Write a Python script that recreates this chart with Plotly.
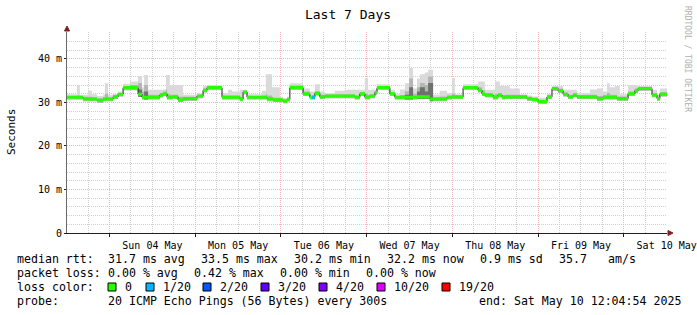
import plotly.graph_objects as go
from datetime import datetime, timedelta

# ---------------- data ----------------
title_text = "Last 7 Days"
end_time = datetime(2025, 5, 10, 12, 4, 54)
start_time = end_time - timedelta(days=7)

# segment start, hours after start of window
seg_hours = [0.0, 2.8, 3.6, 4.5, 5.9, 7.0, 8.4, 10.1, 10.6, 11.5, 12.9, 14.3, 15.7, 17.6, 19.9, 21.0,
             21.6, 22.7, 26.0, 26.9, 27.7, 28.0, 28.8, 29.7, 31.1, 32.5, 36.4, 38.1, 39.2, 43.4, 45.1,
             46.2, 48.4, 49.3, 50.4, 54.6, 55.7, 56.0, 57.4, 57.7, 59.6, 60.5, 61.6, 62.4, 66.1, 68.0,
             68.6, 69.4, 70.8, 72.2, 75.0, 77.8, 80.6, 82.0, 83.4, 84.3, 84.8, 86.2, 86.8, 90.4, 91.8,
             93.2, 94.6, 95.8, 96.9, 98.0, 98.8, 100.2, 101.1, 101.6, 102.5, 104.4, 106.4, 107.8, 108.6,
             110.9, 115.1, 116.2, 117.0, 119.3, 119.8, 120.7, 121.2, 121.8, 122.6, 124.0, 126.8, 128.8,
             130.2, 131.9, 134.4, 135.8, 137.5, 138.9, 140.3, 141.7, 142.8, 146.4, 148.4, 150.1, 151.2,
             152.0, 153.4, 154.0, 154.8, 157.1, 159.0, 159.9, 163.8, 165.2, 166.0]

median_ms = [31.2, 31.2, 31.2, 30.8, 30.8, 30.8, 30.5, 30.8, 30.8, 30.8, 31.3, 31.9, 33.4, 33.4, 31.9, 31.2,
             31.2, 31.2, 31.7, 32.0, 32.0, 31.2, 31.2, 31.3, 30.6, 30.9, 31.5, 32.8, 33.4, 31.2, 31.2,
             31.2, 30.8, 32.4, 31.2, 31.2, 31.2, 30.8, 30.8, 30.6, 30.6, 30.3, 30.7, 33.4, 32.0, 31.2,
             31.2, 32.1, 31.3, 31.5, 31.5, 31.5, 31.2, 32.0, 31.2, 31.2, 31.5, 32.3, 33.4, 32.0, 31.2,
             31.2, 31.2, 31.2, 31.2, 31.3, 31.3, 31.3, 31.3, 30.8, 30.8, 30.8, 31.2, 31.3, 31.3,
             33.4, 32.8, 32.0, 31.7, 31.2, 31.2, 31.7, 31.7, 31.2, 31.3, 31.3, 31.3, 30.9,
             30.7, 30.2, 31.3, 33.2, 32.7, 31.9, 31.3, 31.7, 31.3, 31.3, 30.9, 31.2, 31.2,
             31.2, 31.2, 30.9, 30.9, 32.0, 32.7, 33.2, 31.7, 30.9, 31.9]

smoke_lo_ms = [30.7, 30.7, 30.7, 30.3, 30.3, 30.3, 29.9, 30.3, 30.3, 30.3, 30.8, 31.4, 32.8, 32.8, 31.3, 30.7,
               30.7, 30.7, 31.2, 31.5, 31.5, 30.7, 30.7, 30.8, 30.1, 30.4, 31.0, 32.3, 32.9, 30.7, 30.7,
               30.7, 30.3, 31.9, 30.7, 30.7, 30.7, 30.3, 30.3, 30.1, 30.1, 29.8, 30.2, 32.9, 31.5, 30.7,
               30.7, 31.6, 30.8, 31.0, 31.0, 31.0, 30.7, 31.5, 30.7, 30.7, 31.0, 31.8, 32.9, 31.5, 30.7,
               30.7, 30.7, 30.7, 30.7, 30.8, 30.8, 30.8, 30.8, 30.3, 30.3, 30.3, 30.7, 30.8, 30.8,
               32.9, 32.3, 31.5, 31.2, 30.7, 30.7, 31.2, 31.2, 30.7, 30.8, 30.8, 30.8, 30.4,
               30.2, 29.7, 30.8, 32.7, 32.2, 31.4, 30.8, 31.2, 30.8, 30.8, 30.4, 30.7, 30.7,
               30.7, 30.7, 30.4, 30.4, 31.5, 32.2, 32.7, 31.2, 30.4, 31.4]

smoke_hi_ms = [31.9, 34.0, 31.8, 31.8, 32.7, 31.9, 31.5, 31.8, 34.4, 31.8, 32.0, 32.5, 34.3, 34.8, 36.1, 33.5,
               36.3, 32.9, 32.9, 33.0, 36.3, 36.3, 34.0, 34.0, 34.0, 31.8, 32.1, 33.8, 34.0, 32.1, 32.9,
               32.5, 32.9, 32.9, 31.9, 32.7, 36.5, 36.5, 33.5, 33.5, 31.3, 31.0, 31.3, 34.4, 33.2, 32.5,
               32.5, 34.2, 32.5, 32.1, 32.7, 32.9, 32.9, 32.9, 35.6, 32.9, 32.9, 33.0, 34.2, 32.9, 31.9,
               33.0, 34.4, 37.9, 33.2, 35.5, 36.5, 36.9, 37.5, 37.5, 31.8, 32.7, 32.1, 35.6, 31.9,
               34.2, 34.8, 34.8, 32.9, 32.9, 34.8, 34.8, 33.8, 33.8, 33.8, 33.2, 31.9, 31.6,
               31.4, 31.1, 32.0, 33.8, 33.8, 32.9, 32.9, 32.9, 32.1, 33.0, 33.2, 32.5, 34.4,
               33.5, 33.8, 33.8, 31.9, 34.0, 34.0, 33.8, 32.9, 31.8, 33.2]

smoke_mid_ms = [31.5, 31.6, 31.5, 31.3, 31.3, 31.2, 31.0, 31.2, 32.0, 31.2, 31.7, 32.2, 33.8, 34.0, 34.5, 32.5,
                34.0, 31.8, 32.2, 32.5, 33.0, 32.0, 31.8, 31.8, 31.3, 31.3, 31.8, 33.2, 33.8, 31.6, 31.6,
                31.6, 31.3, 32.7, 31.5, 31.6, 32.0, 31.6, 31.3, 31.1, 31.0, 30.7, 31.0, 33.9, 32.5, 31.6,
                31.6, 32.6, 31.8, 31.8, 31.9, 31.9, 31.6, 32.4, 32.0, 31.7, 31.9, 32.7, 33.8, 32.4, 31.5,
                31.7, 32.6, 35.5, 32.0, 33.5, 34.5, 34.0, 36.0, 36.0, 31.2, 31.4, 31.6, 32.0, 31.6,
                33.8, 33.5, 32.8, 32.2, 31.7, 32.0, 32.2, 32.2, 31.7, 31.8, 31.8, 31.6, 31.3,
                31.0, 30.6, 31.7, 33.5, 33.2, 32.3, 31.8, 32.1, 31.7, 31.8, 31.5, 31.7, 32.2,
                31.8, 31.8, 31.4, 31.4, 32.5, 33.2, 33.5, 32.1, 31.3, 32.4]

smoke_dark_ms = [30.7, 30.7, 30.7, 30.3, 30.3, 30.3, 29.9, 30.3, 30.3, 30.3, 30.8, 31.4, 32.8, 32.8, 33.0, 30.7,
                 32.5, 30.7, 31.2, 31.5, 31.5, 30.7, 30.7, 30.8, 30.1, 30.4, 31.0, 32.3, 32.9, 30.7, 30.7,
                 30.7, 30.3, 31.9, 30.7, 30.7, 30.7, 30.3, 30.3, 30.1, 30.1, 29.8, 30.2, 32.9, 31.5, 30.7,
                 30.7, 31.6, 30.8, 31.0, 31.0, 31.0, 30.7, 31.5, 30.7, 30.7, 31.0, 31.8, 32.9, 31.5, 30.7,
                 30.7, 31.8, 33.5, 30.7, 32.5, 33.5, 32.5, 34.5, 34.5, 30.3, 30.3, 30.7, 30.8, 30.8,
                 32.9, 32.3, 31.5, 31.2, 30.7, 30.7, 31.2, 31.2, 30.7, 30.8, 30.8, 30.8, 30.4,
                 30.2, 29.7, 30.8, 32.7, 32.2, 31.4, 30.8, 31.2, 30.8, 30.8, 30.4, 30.7, 30.7,
                 30.7, 30.7, 30.4, 30.4, 31.5, 32.2, 32.7, 31.2, 30.4, 31.4]

# segments with packet loss (segment start hour, lost pings of 20)
loss_event_hours = [68.6]
loss_event_count = [1]

loss_labels = ["0", "1/20", "2/20", "3/20", "4/20", "10/20", "19/20"]
loss_thresholds = [0, 1, 2, 3, 4, 10, 19]
loss_colors = ["#26ff00", "#00b8ff", "#0059ff", "#5e00ff", "#7e00ff", "#dd00ff", "#ff0000"]

rtt_stats = {"avg": 31.7, "max": 33.5, "min": 30.2, "now": 32.2, "sd": 0.9, "am/s": 35.7}
loss_stats = {"avg": 0.00, "max": 0.42, "min": 0.00, "now": 0.00}
probe_text = "20 ICMP Echo Pings (56 Bytes) every 300s"
end_text = "end: Sat May 10 12:04:54 2025"

# ---------------- helpers ----------------
L, R, T, B = 67, 667, 32, 233
W, H = 697, 315
Y_MAX = 46.2
MONO = "DejaVu Sans Mono"


def px_x(x):
    return (x - L) / (R - L)


def px_y(y):
    return (B - y) / (B - T)


times = [start_time + timedelta(hours=h) for h in seg_hours] + [end_time]


def ext(vals):
    return list(vals) + [vals[-1]]


fig = go.Figure()


def band(lo, hi, color, xs=None):
    xs = times if xs is None else xs
    fig.add_trace(go.Scatter(x=xs, y=lo, mode="lines", line=dict(width=0, shape="hv"),
                             hoverinfo="skip", showlegend=False))
    fig.add_trace(go.Scatter(x=xs, y=hi, mode="lines", line=dict(width=0, shape="hv"),
                             fill="tonexty", fillcolor=color, hoverinfo="skip", showlegend=False))


# smoke
band(ext(smoke_lo_ms), ext(smoke_hi_ms), "#dadada")
band(ext(smoke_lo_ms), ext(smoke_mid_ms), "#b5b5b5")
band(ext(smoke_lo_ms), ext(smoke_dark_ms), "#707070")

# median line
fig.add_trace(go.Scatter(x=times, y=ext(median_ms), mode="lines",
                         line=dict(color="#202020", width=1, shape="hv"),
                         hoverinfo="skip", showlegend=False))

# loss-coloured median band
HALF = 0.36
med = ext(median_ms)
band([m - HALF for m in med], [m + HALF for m in med], loss_colors[0])
for h, cnt in zip(loss_event_hours, loss_event_count):
    i = seg_hours.index(h)
    col = loss_colors[0]
    for thr, c in zip(loss_thresholds, loss_colors):
        if cnt >= thr:
            col = c
    xs = [times[i], times[i + 1]]
    m = median_ms[i]
    band([m - HALF, m - HALF], [m + HALF, m + HALF], col, xs)

GRID = "#cfcfcf"
MGRID = "#f2b4b4"
DASH = "1px,1px"

fig.update_layout(
    width=W, height=H,
    margin=dict(l=L, r=W - R, t=T, b=H - B, pad=0, autoexpand=False),
    paper_bgcolor="white", plot_bgcolor="white",
    showlegend=False,
    title=dict(text=title_text, x=348 / W, xanchor="center", y=1 - 14 / H, yanchor="middle",
               font=dict(family=MONO, size=13, color="black"), automargin=False),
    xaxis=dict(
        type="date", range=[start_time, end_time], automargin=False,
        tick0="2025-05-04", dtick=86400000, ticklabelmode="period", tickformat="%a %d %b",
        showgrid=True, gridcolor=MGRID, griddash=DASH, gridwidth=1,
        minor=dict(tick0="2025-05-04", dtick=21600000, showgrid=True, gridcolor=GRID, griddash=DASH),
        showline=True, linecolor="#1f1f1f", linewidth=1,
        ticks="outside", ticklen=3, tickcolor="#1f1f1f",
        tickfont=dict(family=MONO, size=10, color="black"),
        zeroline=False, fixedrange=True,
    ),
    yaxis=dict(
        range=[0, Y_MAX], automargin=False,
        tickvals=[0, 10, 20, 30, 40], ticktext=["0", "10 m", "20 m", "30 m", "40 m"],
        showgrid=True, gridcolor=MGRID, griddash=DASH, gridwidth=1,
        minor=dict(tick0=0, dtick=2, showgrid=True, gridcolor=GRID, griddash=DASH),
        showline=True, linecolor="#6a6a6a", linewidth=1,
        ticks="outside", ticklen=2, tickcolor="#1f1f1f",
        tickfont=dict(family=MONO, size=10, color="black"),
        zeroline=False, fixedrange=True,
    ),
)

ann = []


def text(x, y, s, size=11.6, color="black", anchor="left", angle=0):
    ann.append(dict(x=px_x(x), y=px_y(y), xref="paper", yref="paper", text=s, showarrow=False,
                    xanchor=anchor, yanchor="middle", textangle=angle, borderpad=0,
                    font=dict(family=MONO, size=size, color=color)))


text(11, 132, "Seconds", size=11, anchor="center", angle=-90)
text(688, 59, "RRDTOOL / TOBI OETIKER", size=8, color="#b0b0b0", anchor="center", angle=90)

row1 = [(16, "median rtt:"),
        (107, f"{rtt_stats['avg']:.1f} ms avg"),
        (200, f"{rtt_stats['max']:.1f} ms max"),
        (293, f"{rtt_stats['min']:.1f} ms min"),
        (386, f"{rtt_stats['now']:.1f} ms now"),
        (479, f"{rtt_stats['sd']:.1f} ms sd"),
        (558, f"{rtt_stats['am/s']:.1f}"),
        (607, "am/s")]
for x, s in row1:
    text(x, 259, s)
row2 = [(16, "packet loss:"),
        (107, f"{loss_stats['avg']:.2f} % avg"),
        (193, f"{loss_stats['max']:.2f} % max"),
        (279, f"{loss_stats['min']:.2f} % min"),
        (365, f"{loss_stats['now']:.2f} % now")]
for x, s in row2:
    text(x, 273, s)
text(16, 287, "loss color:")
box_x = [108, 146, 203, 261, 319, 377, 442]
shapes = []
for bx, lab, col in zip(box_x, loss_labels, loss_colors):
    shapes.append(dict(type="rect", xref="paper", yref="paper",
                       x0=px_x(bx), x1=px_x(bx + 8), y0=px_y(291), y1=px_y(283),
                       fillcolor=col, line=dict(color="black", width=1)))
    text(bx + 16, 287, lab)
text(16, 301, "probe:")
text(107, 301, probe_text)
text(478, 301, end_text)

# axis arrows
ARROW = "#801f1f"


def tri(pts):
    p = "M " + " L ".join(f"{px_x(a)},{px_y(b)}" for a, b in pts) + " Z"
    return dict(type="path", xref="paper", yref="paper", path=p, fillcolor=ARROW,
                line=dict(color=ARROW, width=1))


shapes.append(tri([(668, 230.5), (668, 235.5), (673, 233)]))
shapes.append(tri([(64.5, 31), (69.5, 31), (67, 26)]))

fig.update_layout(annotations=ann, shapes=shapes)
fig.write_html("out.html")
